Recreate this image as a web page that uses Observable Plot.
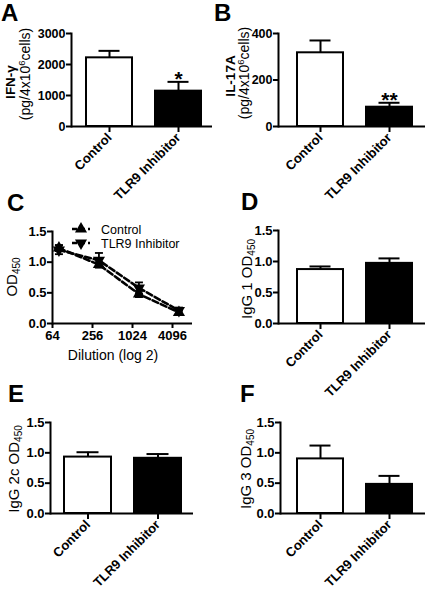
<!DOCTYPE html>
<html><head><meta charset="utf-8">
<script src="https://cdn.jsdelivr.net/npm/d3@7"></script>
<script src="https://cdn.jsdelivr.net/npm/@observablehq/plot@0.6"></script>
<style>
body{margin:0;background:#fff;}
#fig{position:relative;width:425px;height:593px;overflow:hidden;background:#fff;font-family:"Liberation Sans",Arial,sans-serif;}
#fig > svg{position:absolute;overflow:visible;}
</style></head><body><div id="fig"></div>
<script>
// ---------- data ----------
const groups = ["Control", "TLR9 Inhibitor"];
const ifnMean = [2215, 1140];
const ifnErr  = [225, 300];
const ifnStars = ["", "*"];
const il17Mean = [317, 83];
const il17Err  = [53, 19];
const il17Stars = ["", "**"];
const dilutions = [80, 320, 1280, 5120];
const dilTicks = [64, 256, 1024, 4096];
const ctrlOD = [1.23, 0.96, 0.48, 0.18];
const ctrlErr = [0.05, 0.04, 0.05, 0.03];
const tlrOD = [1.20, 1.03, 0.58, 0.21];
const tlrErr = [0.07, 0.12, 0.09, 0.05];
const igg1Mean = [0.87, 0.97];
const igg1Err  = [0.05, 0.08];
const igg2cMean = [0.93, 0.91];
const igg2cErr  = [0.08, 0.07];
const igg3Mean = [0.90, 0.48];
const igg3Err  = [0.22, 0.14];
const noStars = ["", ""];
const cytTicksA = [0, 1000, 2000, 3000];
const cytTicksB = [0, 200, 400];
const odTicks = [0, 0.5, 1.0, 1.5];

const fig = document.getElementById("fig");
const FONT = "Liberation Sans, Arial, sans-serif";

function place(svg, left, top) {
  svg.style.left = left + "px";
  svg.style.top = top + "px";
  fig.appendChild(svg);
}

function barPanel(o) {
  const data = groups.map((g, i) => ({group: g, mean: o.means[i], hi: o.means[i] + o.errs[i], star: o.stars[i]}));
  const p = Plot.plot({
    width: o.width, height: o.height,
    marginLeft: o.mL, marginRight: o.mR, marginTop: o.mT, marginBottom: o.mB,
    style: {fontFamily: FONT, background: "transparent", overflow: "visible"},
    x: {domain: groups, range: o.xRange, paddingInner: 0.33, paddingOuter: 0, axis: null},
    y: {domain: o.yDomain, axis: null},
    color: {domain: groups, range: ["white", "black"]},
    marks: [
      Plot.barY(data, {x: "group", y: "mean", fill: "group", stroke: "black", strokeWidth: 2}),
      Plot.ruleX(data, {x: "group", y1: "mean", y2: "hi", stroke: "black", strokeWidth: 2}),
      Plot.tickY(data, {x: "group", y: "hi", stroke: "black", strokeWidth: 2, insetLeft: 12.5, insetRight: 12.5}),
      Plot.text(data, {x: "group", y: "hi", text: "star", lineAnchor: "bottom", dy: 4, fontSize: 21, fontWeight: "bold"}),
      Plot.axisY({ticks: o.yTicks, tickFormat: o.fmt, tickSize: 5, tickPadding: 1, strokeWidth: 2, fontSize: o.tf, fontWeight: "bold", label: null}),
      Plot.axisX({tickRotate: -45, tickSize: 6, tickPadding: 3, strokeWidth: 2, fontSize: 13, fontWeight: "bold", label: null}),
      Plot.frame({anchor: "left", strokeWidth: 2}),
      Plot.ruleY([0], {strokeWidth: 2})
    ]
  });
  place(p, o.left, o.top);
}

const f1 = d3.format(".1f");

barPanel({left: 0, top: 0, width: 212, height: 210, mL: 71, mR: 0, mT: 33, mB: 84,
  xRange: [86, 202], yDomain: [0, 3000], yTicks: cytTicksA, fmt: d3.format("d"), tf: 12.5,
  means: ifnMean, errs: ifnErr, stars: ifnStars});
barPanel({left: 212, top: 0, width: 213, height: 210, mL: 66, mR: 0, mT: 33, mB: 84,
  xRange: [85, 201], yDomain: [0, 400], yTicks: cytTicksB, fmt: d3.format("d"), tf: 12.5,
  means: il17Mean, errs: il17Err, stars: il17Stars});
barPanel({left: 212, top: 200, width: 213, height: 200, mL: 66, mR: 0, mT: 30, mB: 77,
  xRange: [85, 201], yDomain: [0, 1.5], yTicks: odTicks, fmt: f1, tf: 13,
  means: igg1Mean, errs: igg1Err, stars: noStars});
barPanel({left: 0, top: 390, width: 212, height: 203, mL: 50, mR: 19, mT: 32, mB: 80,
  xRange: [64, 181], yDomain: [0, 1.5], yTicks: odTicks, fmt: f1, tf: 13,
  means: igg2cMean, errs: igg2cErr, stars: noStars});
barPanel({left: 212, top: 390, width: 213, height: 203, mL: 68, mR: 0, mT: 32, mB: 80,
  xRange: [85, 201], yDomain: [0, 1.5], yTicks: odTicks, fmt: f1, tf: 13,
  means: igg3Mean, errs: igg3Err, stars: noStars});

// ---------- panel C ----------
const series = [];
dilutions.forEach((d, i) => {
  series.push({dil: d, od: ctrlOD[i], lo: ctrlOD[i] - ctrlErr[i], hi: ctrlOD[i] + ctrlErr[i], s: "Control"});
});
dilutions.forEach((d, i) => {
  series.push({dil: d, od: tlrOD[i], lo: tlrOD[i] - tlrErr[i], hi: tlrOD[i] + tlrErr[i], s: "TLR9 Inhibitor"});
});
const capSymbol = {draw(ctx, size) { const w = Math.sqrt(size / Math.PI); ctx.moveTo(-w, 0); ctx.lineTo(w, 0); }};
const pc = Plot.plot({
  width: 212, height: 170, marginLeft: 52, marginRight: 20, marginTop: 31, marginBottom: 47,
  style: {fontFamily: FONT, background: "transparent", overflow: "visible"},
  x: {type: "log", base: 2, domain: [64, 8192], axis: null},
  y: {domain: [0, 1.5], axis: null},
  marks: [
    Plot.line(series, {x: "dil", y: "od", z: "s", stroke: "black", strokeWidth: 2.6, strokeDasharray: "6,3"}),
    Plot.ruleX(series, {x: "dil", y1: "lo", y2: "hi", stroke: "black", strokeWidth: 1.8}),
    Plot.dot(series, {x: "dil", y: "lo", symbol: capSymbol, r: 4, fill: "none", stroke: "black", strokeWidth: 1.8}),
    Plot.dot(series, {x: "dil", y: "hi", symbol: capSymbol, r: 4, fill: "none", stroke: "black", strokeWidth: 1.8}),
    Plot.dot(series.filter(d => d.s === "Control"), {x: "dil", y: "od", symbol: "triangle", r: 4.5, fill: "black", stroke: "none"}),
    Plot.dot(series.filter(d => d.s !== "Control"), {x: "dil", y: "od", symbol: "triangle", rotate: 180, r: 4.5, fill: "black", stroke: "none"}),
    Plot.axisY({ticks: odTicks, tickFormat: f1, tickSize: 5, tickPadding: 1, strokeWidth: 2, fontSize: 13, fontWeight: "bold", label: null}),
    Plot.axisX({ticks: dilTicks, tickFormat: d3.format("d"), tickSize: 5, tickPadding: 2, strokeWidth: 2, fontSize: 13, fontWeight: "bold", label: null}),
    Plot.frame({anchor: "left", strokeWidth: 2}),
    Plot.ruleY([0], {strokeWidth: 2})
  ]
});
place(pc, 0, 200);

// ---------- overlay: panel letters, axis titles, legend ----------
const ov = d3.create("svg").attr("width", 425).attr("height", 593)
  .style("left", "0px").style("top", "0px").style("pointer-events", "none")
  .attr("font-family", FONT);

const letters = [["A", 1, 21], ["B", 214, 21], ["C", 7, 211], ["D", 241, 210], ["E", 8, 402], ["F", 240, 402]];
letters.forEach(([t, x, y]) => ov.append("text").attr("x", x).attr("y", y).attr("font-size", 24).attr("font-weight", "bold").text(t));

function rotTitle(x, y, parts, size, weight) {
  const t = ov.append("text").attr("transform", `translate(${x},${y}) rotate(-90)`)
    .attr("text-anchor", "middle").attr("font-size", size).attr("font-weight", weight || "normal");
  parts.forEach(([txt, dy, fs]) => {
    const s = t.append("tspan").text(txt);
    if (dy) s.attr("dy", dy);
    if (fs) s.attr("font-size", fs);
  });
}
const cellsParts = [["(pg/4x10"], ["6", -5, 9.5], ["cells)", 5]];
rotTitle(15, 82, [["IFN-γ"]], 13.5, "bold");
rotTitle(30, 74, cellsParts, 14);
rotTitle(235, 76, [["IL-17A"]], 13.5, "bold");
rotTitle(249, 73, cellsParts, 14);
const od = (pre) => [[pre + "OD"], ["450", 3, 10]];
rotTitle(17, 277, od(""), 15);
rotTitle(252, 279, od("IgG 1 "), 15);
rotTitle(19, 469, od("IgG 2c "), 15);
rotTitle(251, 469, od("IgG 3 "), 15);

ov.append("text").attr("x", 113).attr("y", 360).attr("text-anchor", "middle").attr("font-size", 14).text("Dilution (log 2)");

// legend
[["Control", 229, 0], ["TLR9 Inhibitor", 243, 180]].forEach(([name, y, rot]) => {
  ov.append("line").attr("x1", 72).attr("x2", 90).attr("y1", y).attr("y2", y)
    .attr("stroke", "black").attr("stroke-width", 2.6).attr("stroke-dasharray", "5,3");
  ov.append("path").attr("d", d3.symbol(d3.symbolTriangle, 4.5 * 4.5 * Math.PI)())
    .attr("transform", `translate(81,${y}) rotate(${rot})`).attr("fill", "black");
  ov.append("text").attr("x", 101).attr("y", y + 4.5).attr("font-size", 12.5).text(name);
});

fig.appendChild(ov.node());
</script></body></html>
